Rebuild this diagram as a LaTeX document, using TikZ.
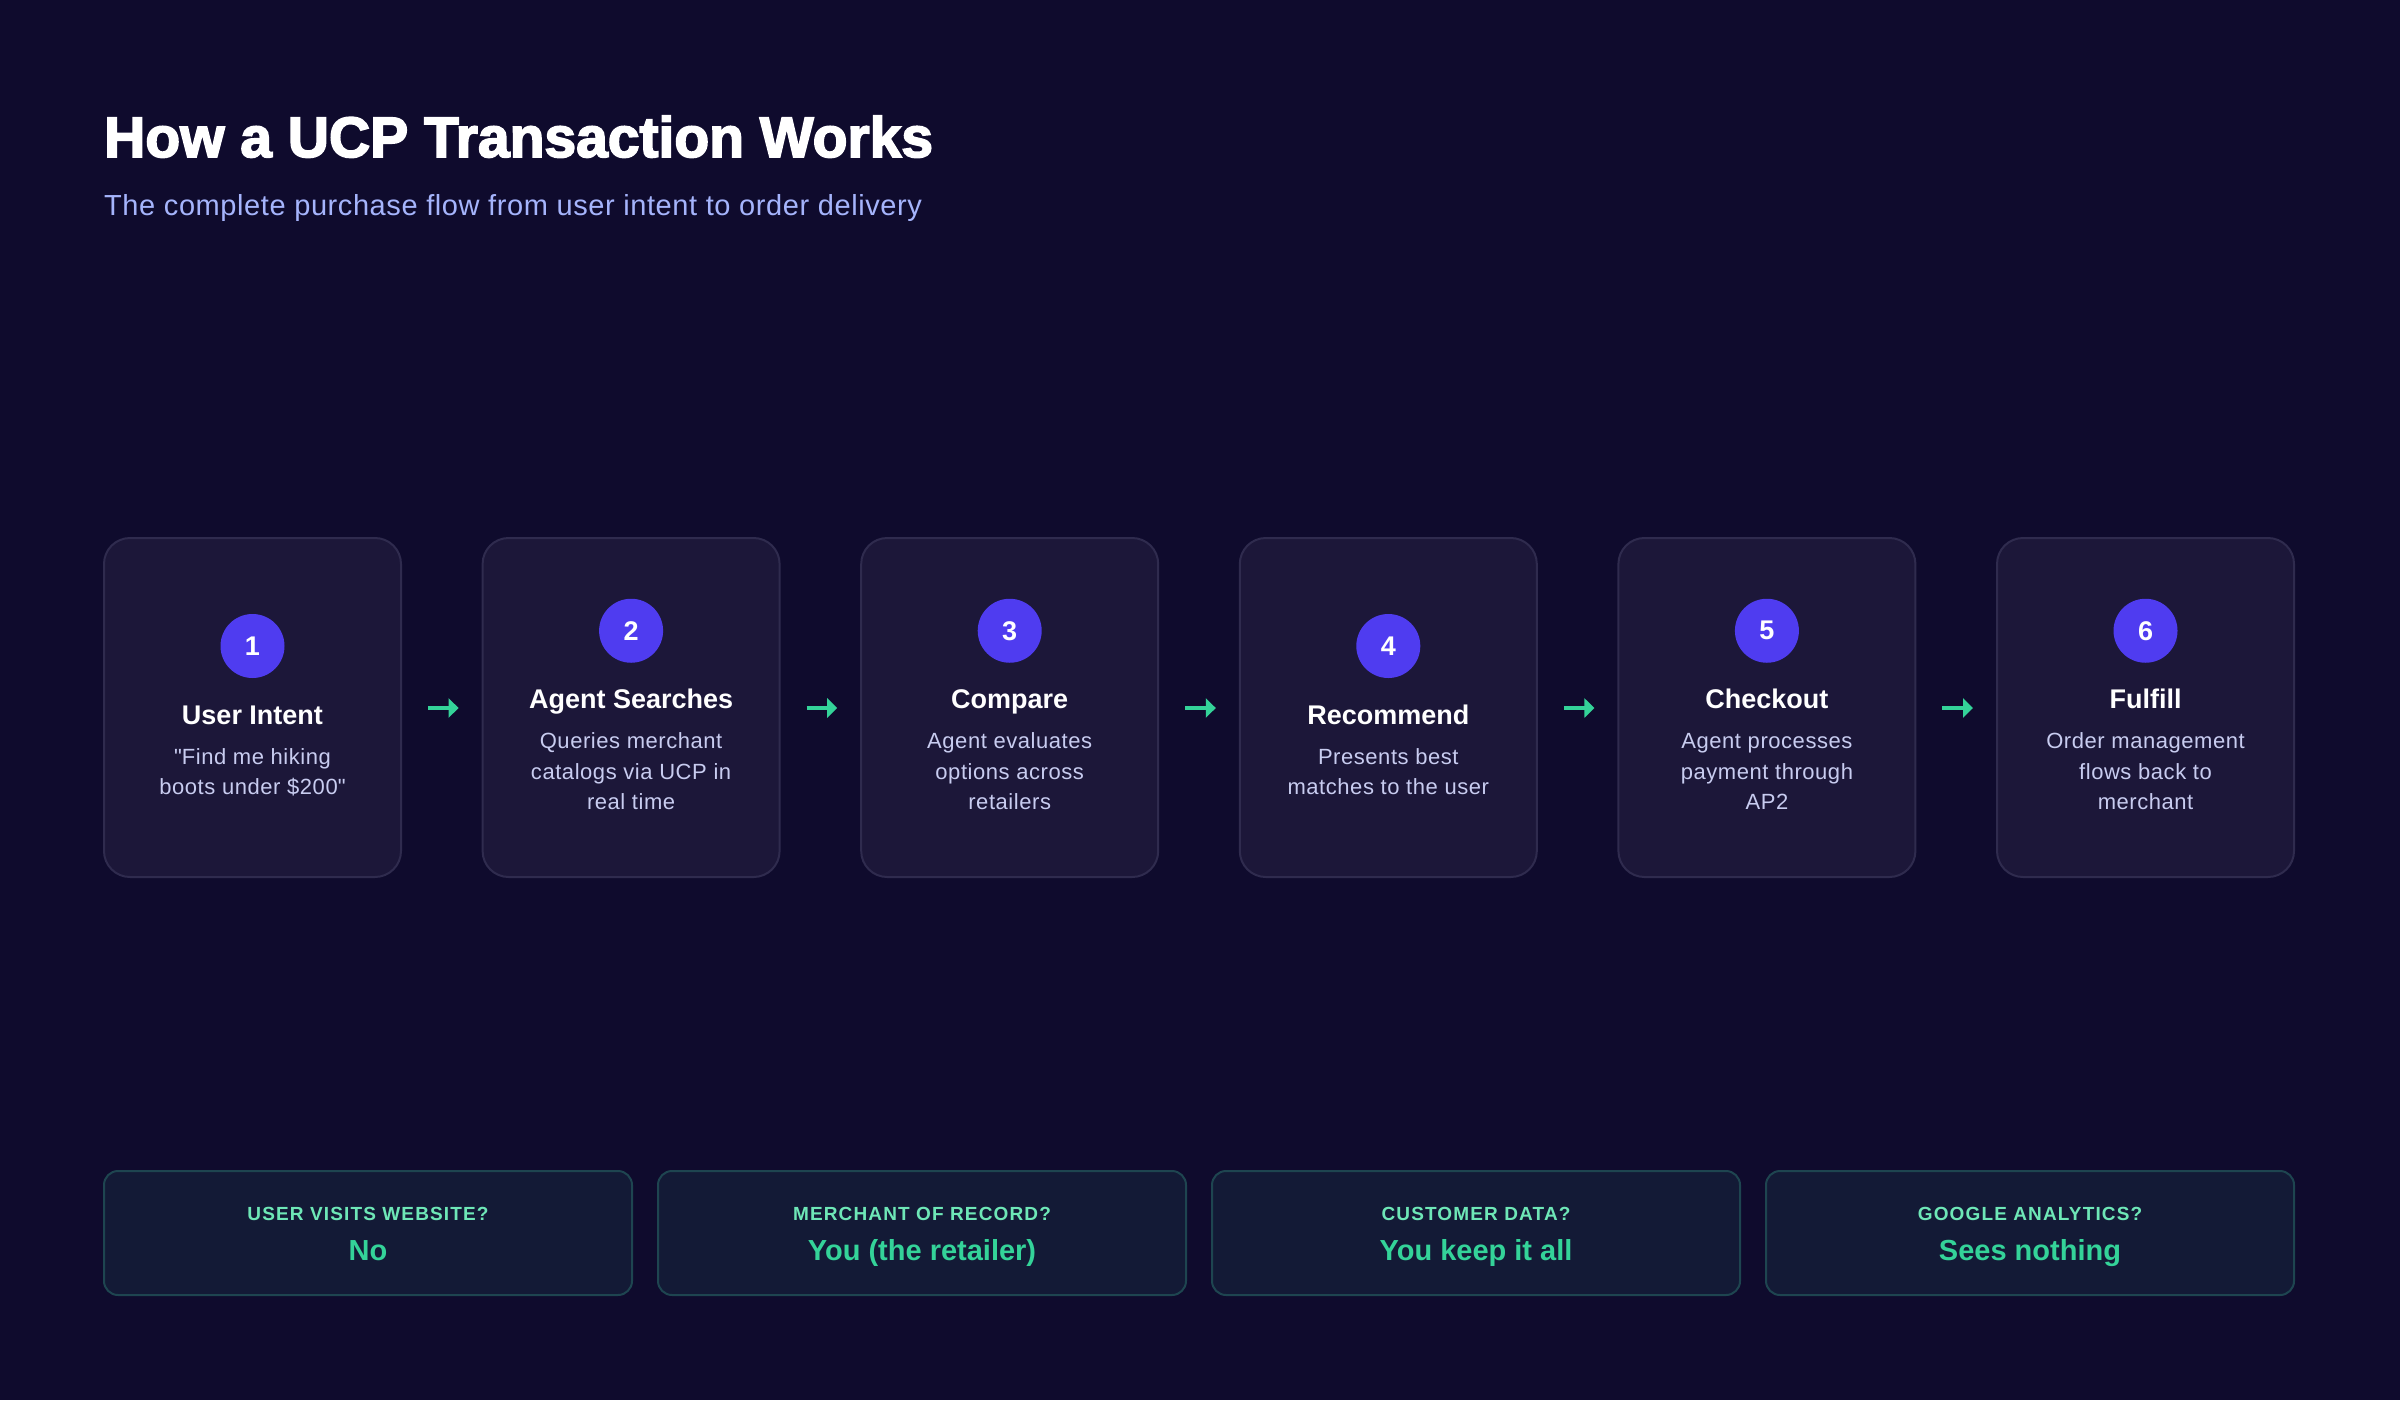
\documentclass[tikz,border=0pt]{standalone}
\usepackage{fontspec}
\setmainfont{Liberation Sans}
\usetikzlibrary{arrows.meta}
\definecolor{bg}{HTML}{0F0B2D}
\definecolor{cardfill}{HTML}{1C1739}
\definecolor{cardline}{HTML}{2F2B4E}
\definecolor{badgecol}{HTML}{4F3CF0}
\definecolor{desccol}{HTML}{C8CCF0}
\definecolor{subcol}{HTML}{A5B4FC}
\definecolor{flowgreen}{HTML}{34D399}
\definecolor{labelgreen}{HTML}{6EE7B7}
\definecolor{infofill}{HTML}{131A36}
\definecolor{infoline}{HTML}{1E4550}
\tikzset{
  card/.style={draw=cardline, line width=2pt, fill=cardfill, rounded corners=26pt,
    minimum width=297pt, minimum height=339pt, inner sep=0pt},
  badge/.style={circle, fill=badgecol, minimum size=64pt, inner sep=0pt, text=white,
    font=\bfseries\fontsize{27}{27}\selectfont},
  ctitle/.style={anchor=base, inner sep=0pt, text=white, font=\bfseries\fontsize{27}{27}\selectfont},
  cdesc/.style={anchor=base, inner sep=0pt, text=desccol,
    font=\fontsize{22}{22}\selectfont\addfontfeatures{LetterSpace=2.5}},
  flow/.style={draw=flowgreen, line width=4.5pt, -{Triangle[length=10pt,width=19pt]},
    shorten <=26pt, shorten >=23pt},
  infobox/.style={draw=infoline, line width=2pt, fill=infofill, rounded corners=14pt,
    minimum width=528pt, minimum height=124pt, inner sep=0pt},
  ilabel/.style={anchor=base, inner sep=0pt, text=labelgreen,
    font=\bfseries\fontsize{19}{19}\selectfont\addfontfeatures{LetterSpace=6}},
  ivalue/.style={anchor=base, inner sep=0pt, text=flowgreen, font=\bfseries\fontsize{29}{29}\selectfont},
}
\newcommand\stepcard[6]{%
  \pgfmathsetmacro\cx{104+(#1-1)*378.6+148.5}%
  \pgfmathsetmacro\off{(#2-2)*15.25}%
  \node[card] (card#1) at (\cx,707.5) {};
  \node[badge] (num#1) at (\cx,646-\off) {#1};
  \node[ctitle] (title#1) at (\cx,724-\off) {#3};
  \node[cdesc] (descA#1) at (\cx,764-\off) {#4};
  \node[cdesc] (descB#1) at (\cx,794.5-\off) {#5};
  \if\relax\detokenize{#6}\relax\else
  \node[cdesc] (descC#1) at (\cx,825-\off) {#6};
  \fi
}
\newcommand\infocard[3]{%
  \pgfmathsetmacro\ix{368+(#1-1)*554}%
  \node[infobox] (info#1) at (\ix,1233) {};
  \node[ilabel] (ilab#1) at (\ix,1220) {#2};
  \node[ivalue] (ival#1) at (\ix,1260) {#3};
}
\begin{document}
\begin{tikzpicture}[x=1pt,y=-1pt]
\useasboundingbox (0,0) rectangle (2400,1400);
\fill[bg] (0,0) rectangle (2400,1400);

\node[anchor=base west, inner sep=0pt, text=white,
  font=\bfseries\fontsize{57}{57}\selectfont\addfontfeatures{FakeBold=3}]
  (title) at (104,157) {How a UCP Transaction Works};
\node[anchor=base west, inner sep=0pt, text=subcol,
  font=\fontsize{29}{29}\selectfont\addfontfeatures{LetterSpace=2}]
  (subtitle) at (104,215) {The complete purchase flow from user intent to order delivery};

\stepcard{1}{2}{User Intent}{\textquotedbl Find me hiking}{boots under \$200\textquotedbl}{}
\stepcard{2}{3}{Agent Searches}{Queries merchant}{catalogs via UCP in}{real time}
\stepcard{3}{3}{Compare}{Agent evaluates}{options across}{retailers}
\stepcard{4}{2}{Recommend}{Presents best}{matches to the user}{}
\stepcard{5}{3}{Checkout}{Agent processes}{payment through}{AP2}
\stepcard{6}{3}{Fulfill}{Order management}{flows back to}{merchant}

\foreach \a/\b in {1/2,2/3,3/4,4/5,5/6}
  \draw[flow] ([yshift=-0.5pt]card\a.east) -- ([yshift=-0.5pt]card\b.west);

\infocard{1}{USER VISITS WEBSITE?}{No}
\infocard{2}{MERCHANT OF RECORD?}{You (the retailer)}
\infocard{3}{CUSTOMER DATA?}{You keep it all}
\infocard{4}{GOOGLE ANALYTICS?}{Sees nothing}
\end{tikzpicture}
\end{document}
